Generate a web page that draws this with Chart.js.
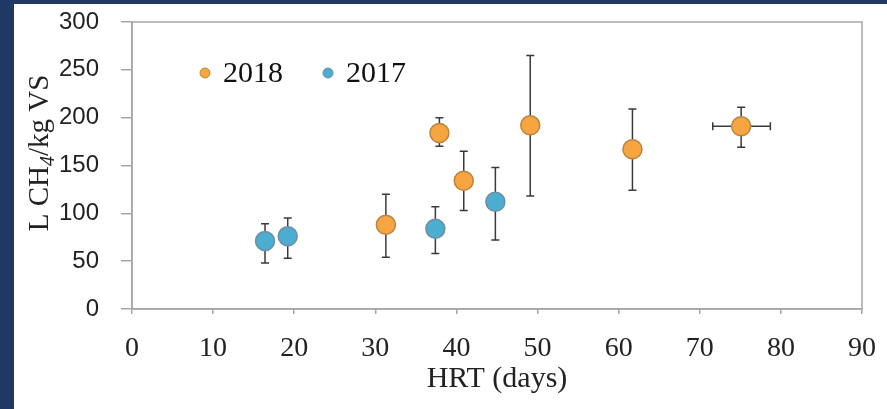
<!DOCTYPE html>
<html>
<head>
<meta charset="utf-8">
<script src="https://cdn.jsdelivr.net/npm/chart.js@4/dist/chart.umd.min.js"></script>
<style>
  html, body { margin: 0; padding: 0; background: #1f3864; }
  #wrap { position: absolute; left: 14px; top: 4px; width: 873px; height: 405px; background: #fff; }
</style>
</head>
<body>
<div id="wrap"><canvas id="chart-ch4"></canvas></div>
<script>
// valores
const hrt2018 = [31.3, 37.9, 40.9, 49.1, 61.7, 75.1]
const ch4_2018 = [88, 184, 134, 192, 167, 191]
const low2018 = [54, 170, 103, 118, 124, 169]
const high2018 = [120, 200, 165, 265, 209, 211]
const hrtLow2018 = [null, null, null, null, null, 71.6]
const hrtHigh2018 = [null, null, null, null, null, 78.7]

const hrt2017 = [16.4, 19.2, 37.4, 44.8]
const ch4_2017 = [71, 76, 84, 112]
const low2017 = [48, 53, 58, 72]
const high2017 = [89, 95, 107, 148]

const xTicks = [0, 10, 20, 30, 40, 50, 60, 70, 80, 90]
const yTicks = [0, 50, 100, 150, 200, 250, 300]

const gris = '#a6a6a6'
const serif = 'Liberation Serif'

function puntos(xs, ys, lo, hi, xlo, xhi) {
  return xs.map((v, i) => ({
    x: v, y: ys[i], yMin: lo[i], yMax: hi[i],
    xMin: xlo ? xlo[i] : null, xMax: xhi ? xhi[i] : null
  }))
}

// barras de error dibujadas antes de los puntos
const errorBars = {
  id: 'errorBars',
  beforeDatasetsDraw(chart) {
    const { ctx, scales: { x, y } } = chart
    ctx.save()
    ctx.strokeStyle = '#3a3a3a'
    ctx.lineWidth = 1.5
    const cap = 4
    chart.data.datasets.forEach(ds => {
      ds.data.forEach(p => {
        const px = x.getPixelForValue(p.x)
        const py = y.getPixelForValue(p.y)
        ctx.beginPath()
        if (p.yMin != null) {
          const t = y.getPixelForValue(p.yMax), b = y.getPixelForValue(p.yMin)
          ctx.moveTo(px, t); ctx.lineTo(px, b)
          ctx.moveTo(px - cap, t); ctx.lineTo(px + cap, t)
          ctx.moveTo(px - cap, b); ctx.lineTo(px + cap, b)
        }
        if (p.xMin != null) {
          const l = x.getPixelForValue(p.xMin), r = x.getPixelForValue(p.xMax)
          ctx.moveTo(l, py); ctx.lineTo(r, py)
          ctx.moveTo(l, py - cap); ctx.lineTo(l, py + cap)
          ctx.moveTo(r, py - cap); ctx.lineTo(r, py + cap)
        }
        ctx.stroke()
      })
    })
    ctx.restore()
  }
}

// marco del area, leyenda dentro del grafico y titulo Y con subindice
const marco = {
  id: 'marco',
  beforeDatasetsDraw(chart) {
    const { ctx, chartArea: a } = chart
    ctx.save()
    ctx.strokeStyle = gris
    ctx.lineWidth = 1.5
    ctx.strokeRect(a.left, a.top, a.right - a.left, a.bottom - a.top)
    ctx.restore()
  },
  afterDraw(chart) {
    const { ctx, chartArea: a } = chart
    ctx.save()
    ctx.font = '30px "' + serif + '"'
    ctx.textBaseline = 'middle'
    let lx = a.left + 73
    const ly = a.top + 51
    chart.data.datasets.forEach(ds => {
      ctx.beginPath()
      ctx.arc(lx, ly, 5, 0, Math.PI * 2)
      ctx.fillStyle = ds.backgroundColor
      ctx.fill()
      ctx.lineWidth = 1
      ctx.strokeStyle = ds.borderColor
      ctx.stroke()
      ctx.fillStyle = '#111'
      ctx.fillText(ds.label, lx + 18, ly + 1)
      lx += 18 + ctx.measureText(ds.label).width + 45
    })
    ctx.restore()

    // L CH4/kg VS
    const partes = [
      { t: 'L CH', f: '29px "' + serif + '"', dy: 0 },
      { t: '4', f: 'italic 20px "' + serif + '"', dy: 6 },
      { t: '/kg VS', f: '29px "' + serif + '"', dy: 0 }
    ]
    ctx.save()
    ctx.fillStyle = '#222'
    ctx.textBaseline = 'alphabetic'
    let w = 0
    partes.forEach(p => { ctx.font = p.f; p.w = ctx.measureText(p.t).width; w += p.w })
    ctx.translate(34, a.top + 131)
    ctx.rotate(-Math.PI / 2)
    let tx = -w / 2
    partes.forEach(p => { ctx.font = p.f; ctx.fillText(p.t, tx, p.dy); tx += p.w })
    ctx.restore()
  }
}

new Chart(document.getElementById('chart-ch4'), {
  type: 'scatter',
  data: {
    datasets: [{
      label: '2018',
      data: puntos(hrt2018, ch4_2018, low2018, high2018, hrtLow2018, hrtHigh2018),
      backgroundColor: '#f7a541',
      borderColor: '#b98442',
      borderWidth: 1.5,
      pointRadius: 9.5
    }, {
      label: '2017',
      data: puntos(hrt2017, ch4_2017, low2017, high2017),
      backgroundColor: '#4badd0',
      borderColor: '#6f8ea4',
      borderWidth: 1.5,
      pointRadius: 9.5
    }]
  },
  options: {
    responsive: true,
    maintainAspectRatio: false,
    animation: false,
    layout: { padding: { top: 18, right: 25, left: 0, bottom: 0 } },
    plugins: {
      legend: { display: false },
      tooltip: { enabled: false }
    },
    scales: {
      x: {
        min: 0, max: 90,
        afterFit: s => { s.height = 100; s.paddingLeft = 0; s.paddingRight = 0 },
        afterBuildTicks: s => { s.ticks = xTicks.map(v => ({ value: v })) },
        grid: { drawOnChartArea: false, tickLength: 5, color: gris, lineWidth: 1.5 },
        border: { color: gris, width: 1.5 },
        ticks: { padding: 18, color: '#222', font: { family: serif, size: 28 }, maxRotation: 0 },
        title: {
          display: true, text: 'HRT (days)', color: '#222',
          font: { family: serif, size: 30 }, padding: { bottom: 12 }
        }
      },
      y: {
        min: 0, max: 300,
        afterFit: s => { s.width = 118; s.paddingTop = 0; s.paddingBottom = 0 },
        afterBuildTicks: s => { s.ticks = yTicks.map(v => ({ value: v })) },
        grid: { drawOnChartArea: false, tickLength: 11, color: gris, lineWidth: 1.5 },
        border: { color: gris, width: 1.5 },
        ticks: { padding: 22, color: '#222', font: { family: 'Liberation Sans', size: 24 } },
        title: { display: false }
      }
    }
  },
  plugins: [errorBars, marco]
})
</script>
</body>
</html>
